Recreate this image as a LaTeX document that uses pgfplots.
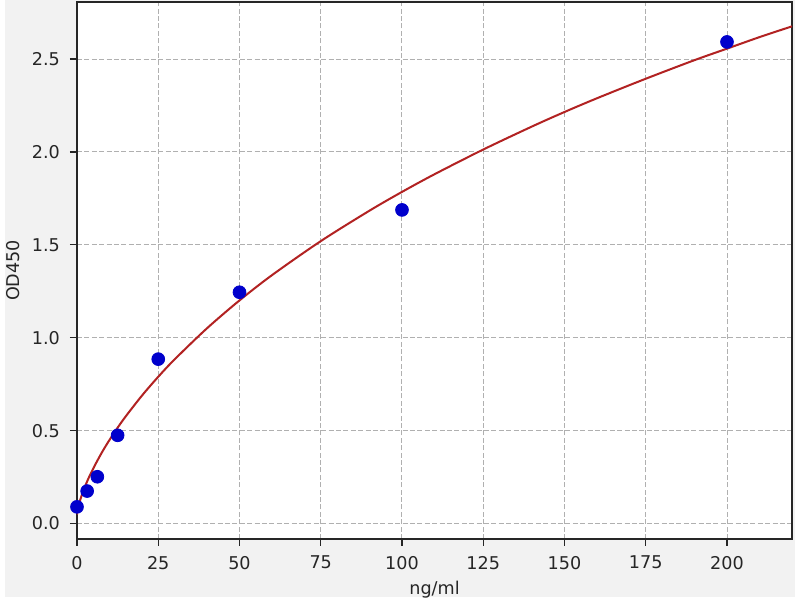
\documentclass[border=0pt]{standalone}
\usepackage{pgfplots}
\pgfplotsset{compat=1.18}
\usepackage{fontspec}
\setmainfont{DejaVu Sans}

\definecolor{figbg}{RGB}{242,242,242}
\definecolor{fitred}{RGB}{178,34,34}
\definecolor{ptblue}{RGB}{0,0,204}
\definecolor{gridgray}{RGB}{176,176,176}
\definecolor{txt}{RGB}{38,38,38}

% standards (ng/ml, OD450)
\pgfplotstableread{
x     y
0     0.090
3.125 0.175
6.25  0.252
12.5  0.475
25    0.885
50    1.245
100   1.688
200   2.592
}\standards

% fitted curve
\pgfplotstableread{
x     y
0     0.048
0.1   0.063
0.25  0.078
0.5   0.097
1     0.128
2     0.179
3     0.222
4     0.261
6     0.330
8     0.393
10    0.450
12.5  0.516
15    0.577
20    0.689
25    0.790
30    0.883
40    1.051
50    1.201
60    1.337
75    1.520
90    1.684
100   1.785
110   1.880
125   2.013
140   2.137
150   2.215
160   2.289
175   2.394
190   2.494
200   2.556
210   2.618
220   2.676
}\fitcurve

\begin{document}
\begin{tikzpicture}
\fill[white] (0,0) rectangle (400pt,300pt);
\fill[figbg] (2.5pt,1.5pt) rectangle (397.5pt,300pt);
\path[use as bounding box] (0,0) rectangle (400pt,300pt);
\begin{axis}[
    at={(38.5pt,30.5pt)}, anchor=south west,
    scale only axis,
    width=357.5pt, height=268.5pt,
    xmin=0, xmax=220,
    ymin=-0.083, ymax=2.807,
    xtick={0,25,...,200},
    ytick={0,0.5,...,2.5},
    xtick pos=bottom, ytick pos=left,
    yticklabel style={/pgf/number format/fixed, /pgf/number format/fixed zerofill, /pgf/number format/precision=1},
    /pgf/number format/assume math mode=true,
    tick align=outside,
    major tick length=3.5pt,
    tick style={line width=0.6pt, color=txt},
    axis line style={line width=0.7pt, color=txt},
    axis background/.style={fill=white},
    grid=major,
    major grid style={gridgray, line width=0.5pt, dash pattern=on 2.5pt off 1.2pt},
    ticklabel style={font=\fontsize{8.8}{10}\selectfont, text=txt},
    xticklabel style={yshift=-1.5pt},
    yticklabel style={xshift=-1.5pt},
    label style={font=\fontsize{8.8}{10}\selectfont, text=txt},
    xlabel={ng/ml},
    ylabel={OD450},
    xlabel style={yshift=1.2pt},
    ylabel style={yshift=-1pt},
    clip=true,
]
\addplot[fitred, line width=1pt, no marks, smooth] table[x=x, y=y] {\fitcurve};
\addplot[only marks, mark=*, mark size=3.2pt, mark options={fill=ptblue, draw=ptblue}] table[x=x, y=y] {\standards};
\end{axis}
\end{tikzpicture}
\end{document}
